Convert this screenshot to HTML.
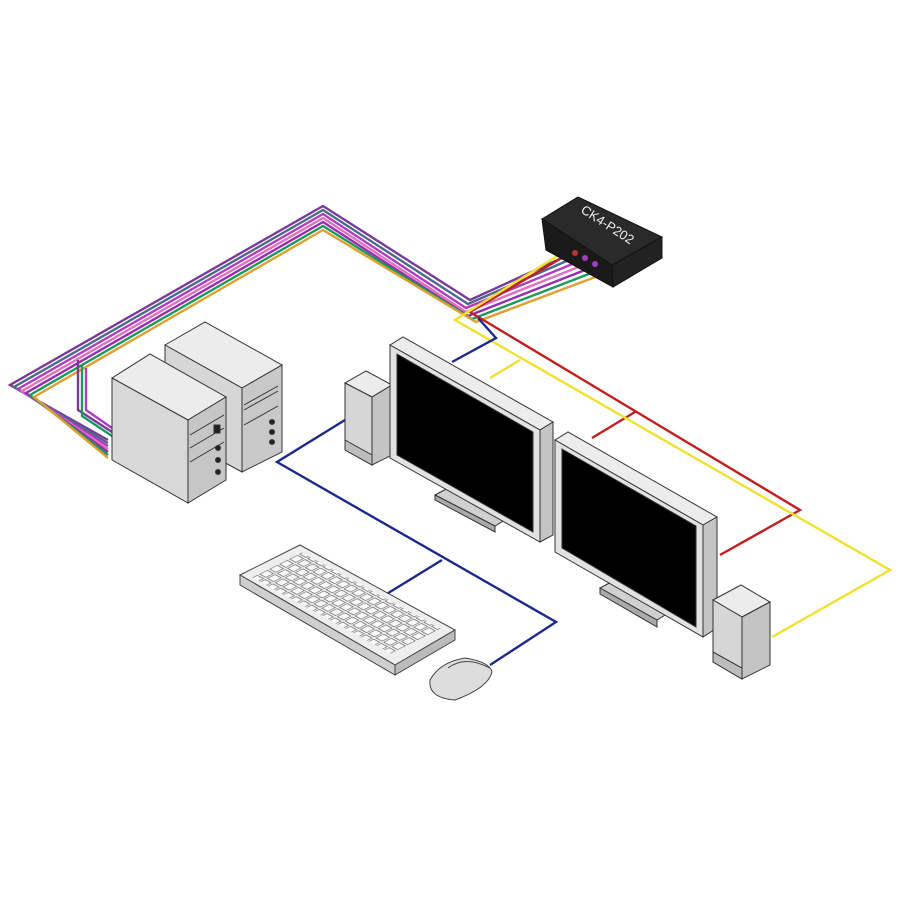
<!DOCTYPE html>
<html><head><meta charset="utf-8"><style>html,body{margin:0;padding:0;background:#fff}svg{display:block}</style></head>
<body>
<svg width="900" height="900" viewBox="0 0 900 900" xmlns="http://www.w3.org/2000/svg">
<rect width="900" height="900" fill="#fff"/>
<g fill="none" stroke-linejoin="miter" stroke-width="2.4">
  <polyline stroke="#7a3a9a" points="108,440 10,385 323,206 470,300 575,252"/>
  <polyline stroke="#4a6a8a" points="108,443 14,387 323,210 468,304 578,256"/>
  <polyline stroke="#b03cc0" points="108,446 18,389 323,214 466,308 582,260"/>
  <polyline stroke="#e070c0" points="108,449 22,391 323,218 466,312 586,264"/>
  <polyline stroke="#9a2ab0" points="108,452 26,393 323,222 468,316 590,268"/>
  <polyline stroke="#1a9a5a" points="108,455 30,395 323,226 472,319 594,272"/>
  <polyline stroke="#e0a030" points="108,458 34,397 323,230 476,322 598,276"/>
  <polyline stroke="#7a3a9a" points="112,432 78,410 78,360"/>
  <polyline stroke="#1a9a5a" points="112,436 82,416 82,364"/>
  <polyline stroke="#b03cc0" points="112,428 86,410 86,368"/>
  <polyline stroke="#c02020" points="575,250 470,312 800,510 720,555"/>
  <polyline stroke="#c02020" points="635,412 592,438"/>
  <polyline stroke="#f0e030" points="570,248 455,320 890,570 772,637"/>
  <polyline stroke="#f0e030" points="520,360 490,378"/>
  <polyline stroke="#1a2a8a" points="478,318 496,338 452,362"/>
  <polyline stroke="#1a2a8a" points="345,420 277,462 556,622 490,665"/>
  <polyline stroke="#1a2a8a" points="442,560 385,595"/>
</g>
<g stroke="#111" stroke-width="1">
  <polygon points="542,219 578,197 662,237 612,265" fill="#2a2a2a"/>
  <polygon points="542,219 612,265 613,287 546,250" fill="#1a1a1a"/>
  <polygon points="612,265 662,237 662,258 613,287" fill="#222"/>
</g>
<text x="0" y="0" transform="translate(580,212) rotate(33)" fill="#eee" font-family="Liberation Sans, sans-serif" font-size="13">CK4-P202</text>
<g fill="#c03030"><circle cx="575" cy="253" r="3"/><circle cx="585" cy="258" r="3" fill="#a040c0"/><circle cx="595" cy="264" r="3" fill="#a040c0"/></g>
<g stroke="#333" stroke-width="1">
  <polygon points="165,345 205,322 282,365 242,388" fill="#ececec"/>
  <polygon points="165,345 242,388 242,472 165,430" fill="#d6d6d6"/>
  <polygon points="242,388 282,365 282,452 242,472" fill="#c8c8c8"/>
  <line x1="244" y1="405" x2="278" y2="386"/><line x1="244" y1="410" x2="278" y2="391"/>
  <line x1="244" y1="425" x2="278" y2="406"/>
  <circle cx="272" cy="422" r="2.5" fill="#222"/><circle cx="272" cy="432" r="2.5" fill="#222"/><circle cx="272" cy="442" r="2.5" fill="#222"/>
</g>
<g stroke="#333" stroke-width="1">
  <polygon points="112,378 150,354 226,397 188,420" fill="#ececec"/>
  <polygon points="112,378 188,420 188,503 112,460" fill="#d8d8d8"/>
  <polygon points="188,420 226,397 226,480 188,503" fill="#c6c6c6"/>
  <line x1="190" y1="435" x2="224" y2="415"/><line x1="190" y1="448" x2="224" y2="428"/>
  <line x1="190" y1="462" x2="224" y2="442"/>
  <circle cx="218" cy="448" r="2.5" fill="#222"/><circle cx="218" cy="460" r="2.5" fill="#222"/><circle cx="218" cy="472" r="2.5" fill="#222"/>
  <rect x="214" y="425" width="6" height="8" fill="#222"/>
</g>
<g stroke="#333" stroke-width="1">
  <polygon points="345,383 366,371 392,385 372,397" fill="#ececec"/>
  <polygon points="345,383 372,397 372,465 345,450" fill="#d6d6d6"/>
  <polygon points="345,440 372,455 372,465 345,450" fill="#bdbdbd"/>
  <polygon points="372,397 392,385 392,455 372,465" fill="#c4c4c4"/>
</g>
<g stroke="#333" stroke-width="1">
  <polygon points="435,495 450,487 508,518 495,526" fill="#d0d0d0"/>
  <polygon points="435,495 495,526 495,532 435,500" fill="#aaa"/>
  <polygon points="390,345 403,337 553,422 540,430" fill="#ececec"/>
  <polygon points="390,345 540,430 540,542 390,458" fill="#e2e2e2"/>
  <polygon points="540,430 553,422 553,535 540,542" fill="#c4c4c4"/>
  <polygon points="397,354 533,432 533,532 397,455" fill="#000"/>
</g>
<g stroke="#333" stroke-width="1">
  <polygon points="600,588 615,580 670,612 657,620" fill="#d0d0d0"/>
  <polygon points="600,588 657,620 657,627 600,594" fill="#aaa"/>
  <polygon points="555,440 568,432 717,517 703,525" fill="#ececec"/>
  <polygon points="555,440 703,525 703,637 555,552" fill="#e2e2e2"/>
  <polygon points="703,525 717,517 717,628 703,637" fill="#c4c4c4"/>
  <polygon points="562,449 696,526 696,627 562,548" fill="#000"/>
</g>
<g stroke="#333" stroke-width="1">
  <polygon points="713,600 741,585 770,602 742,617" fill="#ececec"/>
  <polygon points="713,600 742,617 742,679 713,662" fill="#d6d6d6"/>
  <polygon points="713,652 742,668 742,679 713,662" fill="#bdbdbd"/>
  <polygon points="742,617 770,602 770,665 742,679" fill="#c4c4c4"/>
</g>
<g stroke="#444" stroke-width="1">
  <polygon points="240,575 300,545 455,630 395,665" fill="#eee"/>
  <polygon points="240,575 395,665 395,675 240,585" fill="#cfcfcf"/>
  <polygon points="395,665 455,630 455,640 395,675" fill="#bbb"/>
</g>
<defs>
  <pattern id="keys" width="5" height="5" patternUnits="userSpaceOnUse">
    <rect x="0.6" y="0.6" width="3.8" height="3.8" fill="#f8f8f8" stroke="#555" stroke-width="0.35"/>
  </pattern>
</defs>
<g transform="matrix(1.55,0.85,-2,1,300,545)">
  <rect x="5" y="3" width="90" height="25" fill="url(#keys)"/>
</g>
<g stroke="#444" stroke-width="1">
  <path d="M430,680 Q440,662 465,658 Q490,662 492,672 Q488,688 455,700 Q428,698 430,680Z" fill="#ddd"/>
  <path d="M448,668 Q465,655 490,668" fill="none"/>
</g>
</svg>
</body></html>
